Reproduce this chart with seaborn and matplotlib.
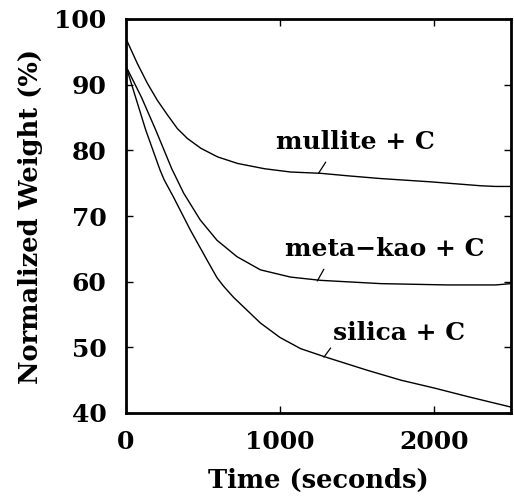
import matplotlib
matplotlib.use("Agg")
import matplotlib.pyplot as plt
import seaborn as sns
import pandas as pd

# ---- data ----
mullite_t = [0, 74, 139, 204, 269, 334, 399, 487, 595, 725, 899, 1068, 1264,
             1450, 1655, 1980, 2306, 2400, 2500]
mullite_w = [97.0, 93.2, 90.2, 87.6, 85.4, 83.3, 81.8, 80.3, 79.0, 78.0, 77.2,
             76.7, 76.5, 76.1, 75.7, 75.2, 74.6, 74.5, 74.5]

metakao_t = [0, 100, 193, 297, 374, 482, 591, 721, 873, 1068, 1264, 1655,
             2089, 2400, 2500]
metakao_w = [92.8, 88.1, 83.1, 77.2, 73.5, 69.4, 66.3, 63.8, 61.8, 60.7, 60.2,
             59.7, 59.5, 59.5, 59.7]

silica_t = [0, 128, 221, 248, 308, 417, 526, 591, 634, 699, 873, 1000, 1134,
            1285, 1568, 1785, 2002, 2219, 2500]
silica_w = [92.8, 83.1, 77.0, 75.5, 72.9, 67.9, 63.3, 60.6, 59.3, 57.6, 53.7,
            51.5, 49.8, 48.6, 46.5, 45.0, 43.8, 42.5, 40.9]

labels = ["mullite + C", "meta\u2212kao + C", "silica + C"]
label_xy = [(1490, 81.2), (1680, 64.9), (1774, 52.2)]
leader = [((1250, 76.5), (1297, 78.2)),
          ((1242, 60.1), (1285, 61.9)),
          ((1285, 48.5), (1329, 49.9))]

xticks = [0, 1000, 2000]
yticks = [40, 50, 60, 70, 80, 90, 100]

sns.set_theme(style="ticks")
plt.rcParams['font.family'] = ['DejaVu Serif', 'DejaVu Sans']
plt.rcParams.update({"text.color": "black", "axes.labelcolor": "black",
                     "xtick.color": "black", "ytick.color": "black"})

df = pd.concat([
    pd.DataFrame({"t": mullite_t, "w": mullite_w, "s": labels[0]}),
    pd.DataFrame({"t": metakao_t, "w": metakao_w, "s": labels[1]}),
    pd.DataFrame({"t": silica_t, "w": silica_w, "s": labels[2]}),
])

FS = 18

fig = plt.figure(figsize=(5.14, 4.96), dpi=100)
ax = fig.add_axes([126/514, 1 - 413/496, (511-126)/514, (413-19)/496])

sns.lineplot(data=df, x="t", y="w", units="s", estimator=None, color="black",
             linewidth=1.0, ax=ax, legend=False)

for lab, (x, y), ((x0, y0), (x1, y1)) in zip(labels, label_xy, leader):
    ax.text(x, y, lab, ha="center", va="center", fontsize=FS, fontweight="bold",
            color="black")
    ax.plot([x0, x1], [y0, y1], color="black", linewidth=0.9)

ax.set_xlim(0, 2500)
ax.set_ylim(40, 100)
ax.set_xticks(xticks)
ax.set_yticks(yticks)
ax.tick_params(direction="in", length=5, width=1, top=True, right=True,
               labelsize=FS, colors="black")
ax.tick_params(axis="x", pad=12)
ax.tick_params(axis="y", pad=14)
for lbl in ax.get_xticklabels() + ax.get_yticklabels():
    lbl.set_fontweight("bold")
for sp in ax.spines.values():
    sp.set_linewidth(2)
    sp.set_color("black")
ax.set_xlabel("Time (seconds)", fontsize=FS + 0.5, fontweight="bold", labelpad=10)
ax.set_ylabel("Normalized Weight (%)", fontsize=FS + 0.5, fontweight="bold", labelpad=8)

fig.savefig("out.png", dpi=100)
